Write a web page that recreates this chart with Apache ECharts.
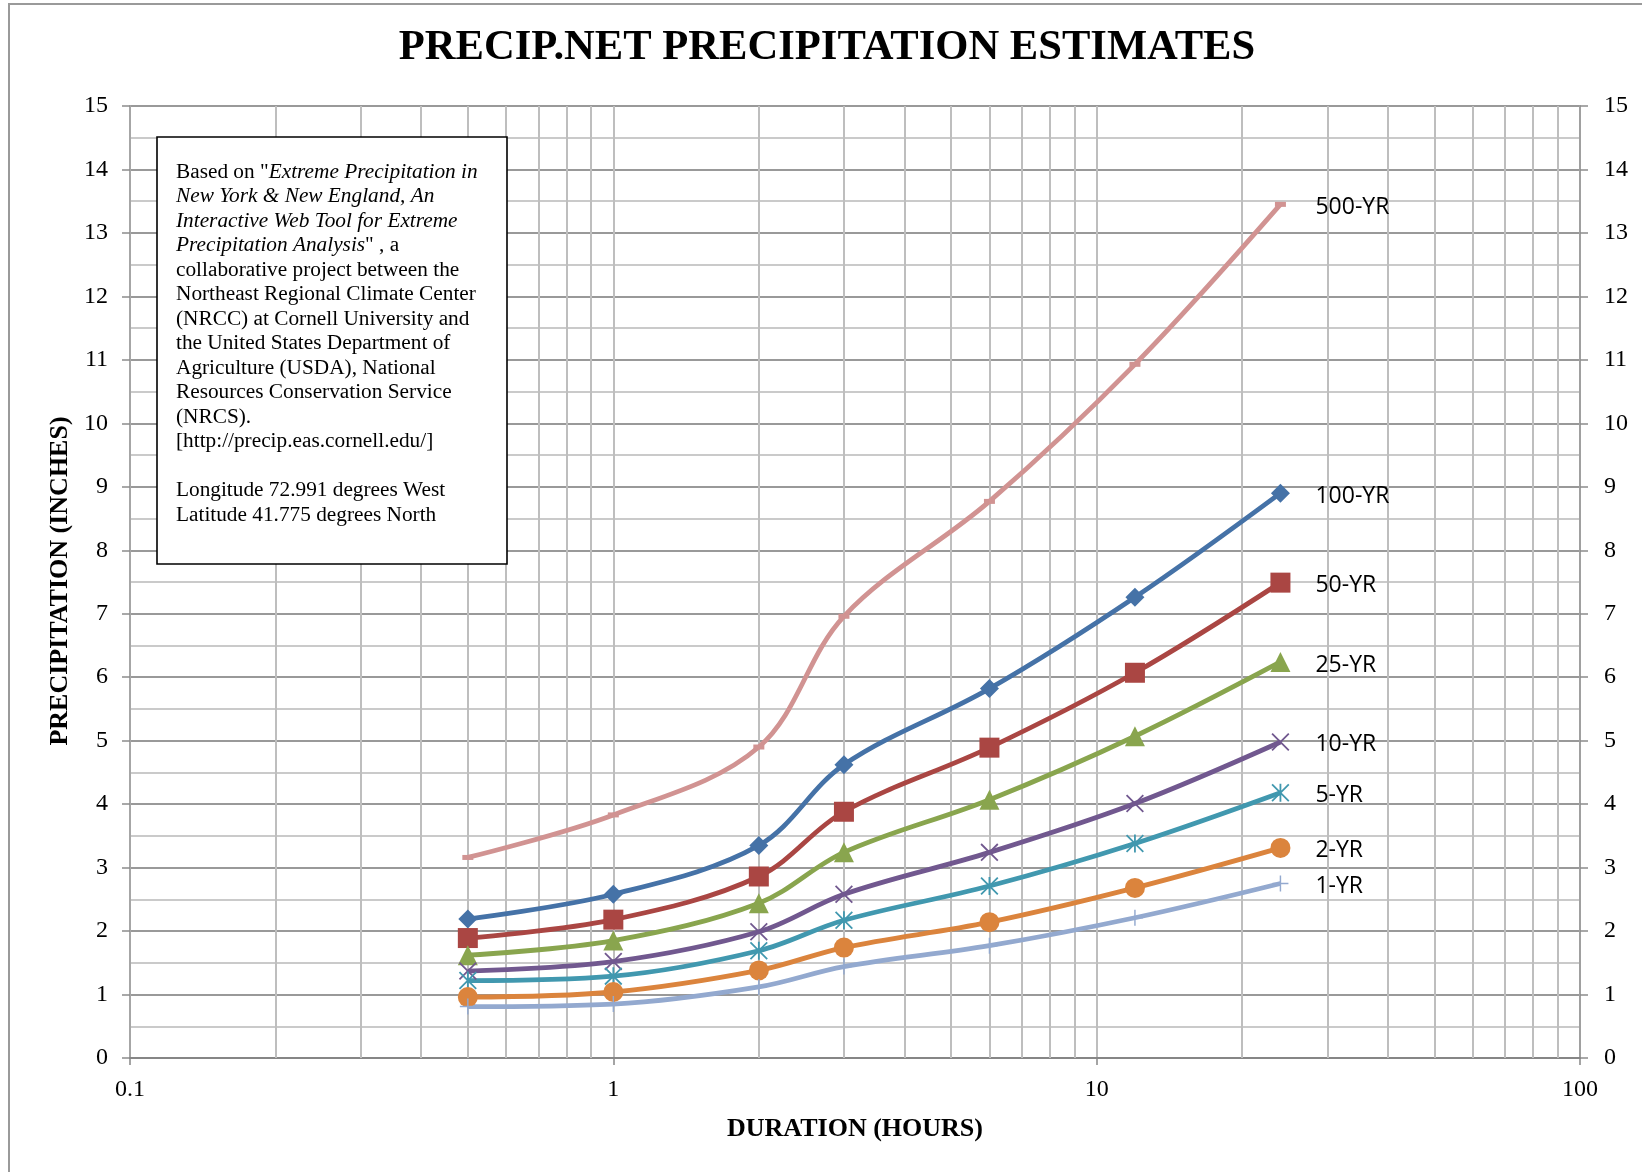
<!DOCTYPE html>
<html>
<head>
<meta charset="utf-8">
<script src="https://cdn.jsdelivr.net/npm/echarts@6/dist/echarts.min.js"></script>
<style>
  html, body { margin: 0; padding: 0; background: #ffffff; }
  #chart { width: 1642px; height: 1172px; }
</style>
</head>
<body>
<div id="chart"></div>
<script>
// Storm durations (hours)
const durations = [0.5, 1, 2, 3, 6, 12, 24];

// Precipitation depth (inches) for each recurrence interval
const yr1   = [0.81, 0.85, 1.12, 1.44, 1.77, 2.21, 2.75];
const yr2   = [0.96, 1.04, 1.38, 1.74, 2.14, 2.68, 3.31];
const yr5   = [1.22, 1.29, 1.69, 2.17, 2.71, 3.38, 4.18];
const yr10  = [1.37, 1.52, 1.99, 2.58, 3.24, 4.01, 4.98];
const yr25  = [1.62, 1.85, 2.44, 3.24, 4.07, 5.07, 6.24];
const yr50  = [1.89, 2.18, 2.86, 3.88, 4.89, 6.07, 7.49];
const yr100 = [2.19, 2.58, 3.35, 4.62, 5.82, 7.26, 8.90];
const yr500 = [3.16, 3.83, 4.90, 6.96, 8.77, 10.93, 13.45];

// Intermediate log-cycle grid positions (hours)
const minorGridX = [0.2, 0.3, 0.4, 0.5, 0.6, 0.7, 0.8, 0.9,
                    2, 3, 4, 5, 6, 7, 8, 9,
                    20, 30, 40, 50, 60, 70, 80, 90];

const SERIF = '"Liberation Serif", "Times New Roman", serif';

// Marker outlines drawn in a 20x20 box
const SYM_X = 'path://M1.4,0L20,18.6L18.6,20L0,1.4Z M18.6,0L20,1.4L1.4,20L0,18.6Z';
const SYM_STAR = 'path://M1.4,0L20,18.6L18.6,20L0,1.4Z M18.6,0L20,1.4L1.4,20L0,18.6Z M9,0L11,0L11,20L9,20Z';
const SYM_PLUS = 'path://M0,9.1L20,9.1L20,10.9L0,10.9Z M9.1,0L10.9,0L10.9,20L9.1,20Z';

function pairs(values) {
  return durations.map((d, i) => [d, values[i]]);
}

function curve(name, values, color, symbol, size) {
  return {
    name: name,
    type: 'line',
    smooth: 0.35,
    data: pairs(values),
    symbol: symbol,
    symbolSize: size,
    showAllSymbol: true,
    lineStyle: { color: color, width: 4.8 },
    itemStyle: { color: color },
    z: 3,
    endLabel: {
      show: true,
      formatter: p => p.seriesName,
      distance: 35,
      offset: [0, 3],
      color: '#000',
      fontFamily: '"Open Sans", sans-serif',
      fontSize: 23
    }
  };
}

const chart = echarts.init(document.getElementById('chart'), null, { renderer: 'canvas' });

const option = {
  animation: false,
  backgroundColor: '#ffffff',
  grid: { left: 130, right: 62, top: 106, bottom: 114, containLabel: false },
  xAxis: {
    type: 'log',
    logBase: 10,
    min: 0.1,
    max: 100,
    axisLine: { show: true, lineStyle: { color: '#868686', width: 2 } },
    axisTick: { show: true, length: 7, lineStyle: { color: '#868686', width: 1.5 } },
    axisLabel: {
      margin: 20,
      color: '#000',
      fontFamily: SERIF,
      fontSize: 24,
      formatter: v => String(+(+v).toFixed(1))
    },
    splitLine: { show: true, lineStyle: { color: '#bebebe', width: 2 } },
    minorTick: { show: false },
    minorSplitLine: { show: false }
  },
  yAxis: [
    {
      type: 'value',
      min: 0,
      max: 15,
      interval: 1,
      position: 'left',
      axisLine: { show: true, lineStyle: { color: '#a6a6a6', width: 2 } },
      axisTick: { show: true, length: 8, lineStyle: { color: '#8c8c8c', width: 1.5 } },
      axisLabel: { margin: 22, color: '#000', fontFamily: SERIF, fontSize: 24 },
      splitLine: { show: true, lineStyle: { color: '#999999', width: 2 } },
      minorTick: { show: false, splitNumber: 2 },
      minorSplitLine: { show: true, lineStyle: { color: '#cacaca', width: 2 } }
    },
    {
      type: 'value',
      min: 0,
      max: 15,
      interval: 1,
      position: 'right',
      axisLine: { show: true, lineStyle: { color: '#a0a0a0', width: 2 } },
      axisTick: { show: true, length: 8, lineStyle: { color: '#8c8c8c', width: 1.5 } },
      axisLabel: { margin: 24, color: '#000', fontFamily: SERIF, fontSize: 24 },
      splitLine: { show: false }
    }
  ],
  series: [
    {
      name: 'grid',
      type: 'line',
      data: [],
      silent: true,
      z: 1,
      markLine: {
        silent: true,
        symbol: 'none',
        z: 1,
        label: { show: false },
        lineStyle: { color: '#bebebe', width: 2, type: 'solid' },
        data: minorGridX.map(v => ({ xAxis: v }))
      }
    },
    curve('500-YR', yr500, '#D19392', 'rect', [11, 5]),
    curve('100-YR', yr100, '#4572A7', 'diamond', 19),
    curve('50-YR',  yr50,  '#AA4643', 'rect', 20),
    curve('25-YR',  yr25,  '#89A54E', 'triangle', 20),
    curve('10-YR',  yr10,  '#71588F', SYM_X, 18),
    curve('5-YR',   yr5,   '#4198AF', SYM_STAR, 18),
    curve('2-YR',   yr2,   '#DB843D', 'circle', 20),
    curve('1-YR',   yr1,   '#93A9CF', SYM_PLUS, 16)
  ],
  graphic: [
    {
      type: 'rect',
      silent: true,
      z: -10,
      shape: { x: 9, y: 4, width: 1700, height: 1300 },
      style: { fill: 'none', stroke: '#9a9a9a', lineWidth: 2 }
    },
    {
      type: 'text',
      silent: true,
      x: 827,
      y: 48,
      style: {
        text: 'PRECIP.NET PRECIPITATION ESTIMATES',
        fontFamily: SERIF,
        fontWeight: 'bold',
        fontSize: 42.6,
        fill: '#000',
        textAlign: 'center',
        textVerticalAlign: 'middle'
      }
    },
    {
      type: 'text',
      silent: true,
      x: 855,
      y: 1129,
      style: {
        text: 'DURATION (HOURS)',
        fontFamily: SERIF,
        fontWeight: 'bold',
        fontSize: 26,
        fill: '#000',
        textAlign: 'center',
        textVerticalAlign: 'middle'
      }
    },
    {
      type: 'text',
      silent: true,
      x: 60,
      y: 581,
      rotation: Math.PI / 2,
      style: {
        text: 'PRECIPITATION (INCHES)',
        fontFamily: SERIF,
        fontWeight: 'bold',
        fontSize: 26,
        fill: '#000',
        textAlign: 'center',
        textVerticalAlign: 'middle'
      }
    },
    {
      type: 'rect',
      silent: true,
      z: 100,
      shape: { x: 157, y: 137, width: 350, height: 427 },
      style: { fill: '#ffffff', stroke: '#000000', lineWidth: 1.6 }
    },
    {
      type: 'text',
      silent: true,
      z: 101,
      x: 176,
      y: 160,
      style: {
        text: [
          '{r|Based on "}{i|Extreme Precipitation in}',
          '{i|New York & New England, An}',
          '{i|Interactive Web Tool for Extreme}',
          '{i|Precipitation Analysis}{r|" , a}',
          '{r|collaborative project between the}',
          '{r|Northeast Regional Climate Center}',
          '{r|(NRCC) at Cornell University and}',
          '{r|the United States Department of}',
          '{r|Agriculture (USDA), National}',
          '{r|Resources Conservation Service}',
          '{r|(NRCS).}',
          '{r|[http://precip.eas.cornell.edu/]}',
          '{r| }',
          '{r|Longitude 72.991 degrees West}',
          '{r|Latitude 41.775 degrees North}'
        ].join('\n'),
        fontFamily: SERIF,
        fontSize: 21.3,
        lineHeight: 24.5,
        fill: '#000',
        textAlign: 'left',
        textVerticalAlign: 'top',
        rich: {
          r: { fontFamily: SERIF, fontSize: 21.3, lineHeight: 24.5, fill: '#000', color: '#000' },
          i: { fontFamily: SERIF, fontSize: 21.3, lineHeight: 24.5, fontStyle: 'italic', fill: '#000', color: '#000' }
        }
      }
    }
  ]
};

chart.setOption(option);
</script>
</body>
</html>
